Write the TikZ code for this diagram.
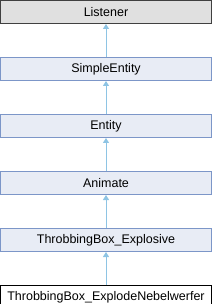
\documentclass[tikz,border=0pt]{standalone}
\usepackage{fontspec}
\setmainfont{Liberation Sans}
\usetikzlibrary{arrows.meta,positioning}
\definecolor{boxfill}{HTML}{E8ECF5}
\definecolor{boxline}{HTML}{7C96C8}
\definecolor{basefill}{HTML}{E0E0E0}
\definecolor{baseline}{HTML}{404040}
\definecolor{inherit}{HTML}{8EC4E4}
\tikzset{
  cls/.style={draw=boxline, fill=boxfill, line width=1pt, minimum width=211pt, minimum height=23pt,
    inner sep=0pt, font=\fontsize{12.5}{14}\selectfont},
  basecls/.style={cls, draw=baseline, fill=basefill},
  curcls/.style={cls, draw=black, fill=white},
  isa/.style={draw=inherit, line width=1pt, -{Triangle[width=6pt,length=5pt]}}
}
\begin{document}
\begin{tikzpicture}[node distance=33pt]
\useasboundingbox (0,0) rectangle (212pt,-304pt);
\node[basecls] (listener) at (106pt,-12pt) {Listener};
\node[cls, below=of listener] (simple) {SimpleEntity};
\node[cls, below=of simple] (entity) {Entity};
\node[cls, below=of entity] (animate) {Animate};
\node[cls, below=of animate] (explosive) {ThrobbingBox\_Explosive};
\node[curcls, below=of explosive] (nebel) {ThrobbingBox\_ExplodeNebelwerfer};
\draw[isa] (simple) -- (listener);
\draw[isa] (entity) -- (simple);
\draw[isa] (animate) -- (entity);
\draw[isa] (explosive) -- (animate);
\draw[isa] (nebel) -- (explosive);
\end{tikzpicture}
\end{document}
